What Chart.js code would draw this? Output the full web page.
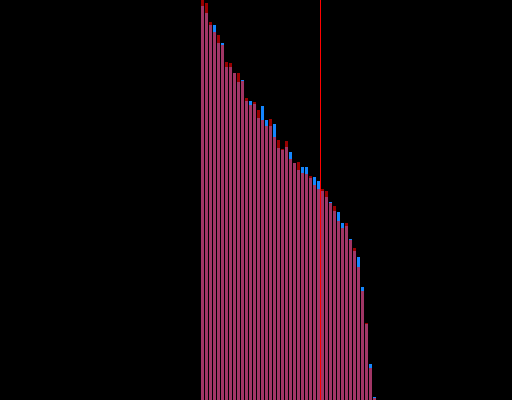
<!DOCTYPE html>
<html lang="en">
<head>
    <meta charset="UTF-8">
    <title>Sorted bars</title>
    <style>
        html, body {
            margin: 0;
            padding: 0;
            background: #000;
        }
        .wrap {
            width: 512px;
            height: 400px;
            position: relative;
        }
    </style>
</head>
<body>
    <div class="wrap">
        <canvas id="chart"></canvas>
    </div>
    <script src="https://cdn.jsdelivr.net/npm/chart.js"></script>
    <script>
        // bar positions (index of each bin)
        const categories = Array.from({ length: 44 }, (_, i) => i);

        // blue series (drawn underneath, opaque)
        const blueValues = [
            394, 387, 375, 375, 357, 357, 333, 333, 327, 318,
            320, 299, 299, 296, 282, 294, 280, 274, 276, 252,
            250, 253, 248, 237, 230, 233, 233, 222, 223, 219,
            209, 203, 198, 189, 188, 177, 174, 161, 149, 143,
            113, 76, 36, 3
        ];

        // red series (translucent, drawn on top)
        const redValues = [
            400, 397, 378, 368, 365, 355, 338, 337, 327, 327,
            319, 302, 295, 298, 290, 280, 274, 281, 263, 260,
            251, 259, 241, 237, 238, 227, 226, 224, 215, 211,
            211, 209, 197, 194, 179, 172, 177, 160, 152, 133,
            109, 77, 32, 2
        ];

        // position of the vertical marker line
        const markerX = 29.5;
        const yMax = 400;

        const toPoints = vals => vals.map((v, i) => ({ x: categories[i], y: v }));

        new Chart(document.getElementById('chart'), {
            type: 'bar',
            data: {
                datasets: [
                    {
                        type: 'line',
                        data: [{ x: markerX, y: 0 }, { x: markerX, y: yMax }],
                        borderColor: 'rgb(255, 0, 0)',
                        borderWidth: 1,
                        pointRadius: 0,
                        order: 0
                    },
                    {
                        data: toPoints(redValues),
                        backgroundColor: 'rgba(255, 0, 0, 0.6)',
                        borderWidth: 0,
                        grouped: false,
                        categoryPercentage: 1,
                        barPercentage: 0.75,
                        order: 1
                    },
                    {
                        data: toPoints(blueValues),
                        backgroundColor: 'rgb(20, 135, 255)',
                        borderWidth: 0,
                        grouped: false,
                        categoryPercentage: 1,
                        barPercentage: 0.75,
                        order: 2
                    }
                ]
            },
            options: {
                responsive: true,
                maintainAspectRatio: false,
                animation: false,
                layout: { padding: 0 },
                plugins: {
                    legend: { display: false },
                    tooltip: { enabled: false }
                },
                scales: {
                    x: {
                        type: 'linear',
                        display: false,
                        offset: false,
                        min: -50.625,
                        max: 77.375
                    },
                    y: {
                        display: false,
                        min: 0,
                        max: yMax
                    }
                }
            }
        });
    </script>
</body>
</html>
